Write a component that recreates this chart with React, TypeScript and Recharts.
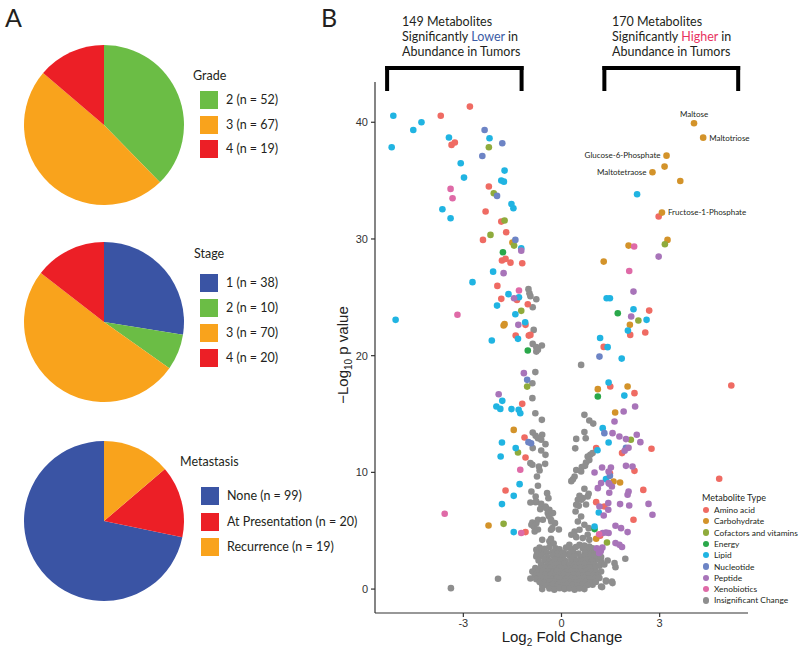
import React from 'react';
import {
  Cell,
  Pie,
  PieChart,
  ReferenceDot,
  ReferenceLine,
  Scatter,
  ScatterChart,
  XAxis,
  YAxis,
} from 'recharts';

const TEXT_FONT = 'Lato, "Open Sans", sans-serif';
const AXIS_FONT = '"Liberation Sans", Arial, sans-serif';

// ---- panel A: cohort pies ----
const gradeLabels = ['2', '3', '4'];
const gradeCounts = [52, 67, 19];
const stageLabels = ['1', '2', '3', '4'];
const stageCounts = [38, 10, 70, 20];
const metastasisLabels = ['None', 'At Presentation', 'Recurrence'];
const metastasisCounts = [99, 20, 19];

const BLUE = '#3a54a4';
const GREEN = '#6bbd45';
const ORANGE = '#f9a31c';
const RED = '#ec1f26';

// ---- panel B: volcano plot, [log2 fold change, -log10 p] ----
const metaboliteTypes = [
  'Amino acid',
  'Carbohydrate',
  'Cofactors and vitamins',
  'Energy',
  'Lipid',
  'Nucleotide',
  'Peptide',
  'Xenobiotics',
  'Insignificant Change',
];
const typeColors = ['#ef6b63', '#d3932a', '#8fab3c', '#2aa84a', '#20b4e2', '#6d84c5', '#a874b9', '#df6aa7', '#8e8e8e'];

const lowerHeader = ['149 Metabolites', 'Significantly ', 'Lower', ' in', 'Abundance in Tumors'];
const higherHeader = ['170 Metabolites', 'Significantly ', 'Higher', ' in', 'Abundance in Tumors'];

const aminoAcid: [number, number][] = [
  [-3.69, 40.56], [-2.8, 41.34], [-3.36, 38.06], [-3.26, 38.26], [-2.22, 34.49], [-2.32, 32.35], [-1.84, 31.49],
  [-1.69, 30.58], [-2.4, 29.92], [-1.82, 28.15], [-1.71, 28.29], [-1.56, 27.97], [-1.2, 27.92], [-1.96, 25.98],
  [-1.84, 24.87], [-1.36, 24.78], [-1.03, 24.41], [-1.1, 22.64], [-1.4, 21.72], [-1.0, 21.72], [-0.95, 21.78],
  [-1.2, 15.87], [-1.13, 12.99], [-1.1, 11.27], [-1.71, 8.45], [-1.1, 4.88],
  [2.97, 31.92], [2.68, 23.86], [2.1, 21.78], [2.56, 21.98], [1.29, 20.75], [1.49, 17.36], [2.23, 16.79],
  [5.19, 17.44], [4.82, 9.45], [1.06, 12.08], [1.85, 11.65], [2.75, 12.02], [2.23, 10.13], [1.48, 9.93],
  [2.5, 8.5], [1.06, 7.45], [1.31, 7.08], [2.2, 5.94], [1.18, 4.57],
];
const carbohydrate: [number, number][] = [
  [-1.5, 29.69], [-1.74, 22.7], [-1.77, 22.58], [-1.46, 13.64], [-2.23, 5.45],
  [4.05, 39.91], [4.33, 38.68], [3.21, 37.14], [3.15, 36.2], [2.78, 35.72], [3.63, 34.97], [3.07, 32.26],
  [3.24, 29.92], [2.05, 29.43], [1.29, 28.06], [2.09, 22.64], [1.11, 17.13], [2.02, 17.36], [1.64, 15.13],
  [1.59, 9.22], [1.79, 9.13], [1.06, 4.31],
];
const cofactors: [number, number][] = [
  [-2.22, 37.86], [-2.07, 33.92], [-1.74, 31.58], [-2.17, 30.35], [-1.45, 29.43], [-1.23, 23.84], [-1.05, 17.35],
  [-1.33, 11.7], [-1.77, 5.59],
  [3.16, 29.55], [2.35, 23.01], [2.12, 12.79], [1.39, 3.99],
];
const energy: [number, number][] = [
  [-1.79, 28.86], [-1.03, 20.44],
  [1.72, 23.64], [1.11, 16.5], [1.01, 5.14],
];
const lipid: [number, number][] = [
  [-5.14, 40.56], [-5.19, 37.86], [-4.53, 39.34], [-4.28, 40.0], [-3.44, 38.7], [-3.08, 36.49], [-2.98, 35.26],
  [-3.64, 32.55], [-3.39, 31.78], [-2.72, 26.3], [-5.07, 23.07], [-2.2, 38.63], [-1.74, 35.86], [-1.84, 35.0],
  [-1.76, 34.91], [-1.53, 33.0], [-1.47, 32.63], [-1.23, 29.2], [-2.09, 27.2], [-1.62, 25.27], [-1.3, 25.0],
  [-1.97, 24.29], [-1.41, 23.55], [-1.11, 22.87], [-1.33, 21.44], [-2.13, 21.3], [-1.81, 16.13], [-1.99, 15.64],
  [-1.87, 15.44], [-1.53, 15.42], [-1.31, 15.36], [-1.26, 15.07], [-1.82, 12.56], [-1.4, 12.08], [-1.86, 11.36],
  [-1.28, 8.99], [-1.46, 7.99], [-1.82, 7.28], [-1.46, 4.88],
  [2.31, 33.83], [1.38, 24.92], [1.48, 24.92], [2.2, 23.98], [2.6, 23.07], [2.03, 22.15], [1.18, 21.52],
  [1.41, 20.73], [1.84, 19.75], [1.44, 17.7], [1.92, 16.58], [1.26, 13.79], [1.44, 12.56], [1.36, 9.42],
  [1.14, 6.56], [1.01, 5.36], [1.1, 11.9],
];
const nucleotide: [number, number][] = [
  [-2.35, 39.34], [-2.42, 37.11], [-1.81, 38.2], [-1.97, 33.69], [-1.41, 29.92], [-1.05, 17.93], [-1.01, 12.59],
  [-0.93, 12.5],
  [1.16, 19.92], [1.31, 13.36], [1.97, 12.1], [1.48, 9.7],
];
const peptide: [number, number][] = [
  [-1.23, 29.0], [-1.77, 27.07], [-1.45, 24.92], [-1.32, 22.64], [-1.15, 18.5], [-1.92, 16.7],
  [2.97, 28.49], [2.2, 25.49], [2.13, 23.35], [2.25, 15.64], [1.9, 15.21], [1.62, 14.36], [1.56, 13.36],
  [1.77, 13.07], [1.97, 12.85], [2.3, 13.22], [2.41, 12.59], [2.05, 12.1], [1.93, 11.85], [1.97, 10.56],
  [2.17, 10.5], [1.24, 10.42], [1.51, 10.42], [1.44, 10.07], [1.01, 9.99], [1.44, 9.08], [1.21, 9.08],
  [1.54, 8.79], [1.11, 8.65], [1.46, 8.25], [2.05, 8.36], [2.02, 8.08], [2.66, 7.3], [2.78, 6.37],
  [1.79, 7.28], [2.07, 7.16], [1.43, 7.37], [1.16, 7.08], [1.29, 6.3], [1.43, 6.8], [1.65, 5.42],
  [1.82, 5.22], [2.02, 4.88], [1.36, 4.85], [1.44, 4.8], [1.26, 4.8], [1.65, 3.94], [1.77, 3.79],
  [1.85, 3.6], [1.08, 3.5], [1.2, 3.25], [1.25, 3.55], [1.15, 3.1], [1.46, 9.02],
];
const xenobiotics: [number, number][] = [
  [-3.39, 34.29], [-3.33, 33.49], [-3.18, 23.5], [-1.3, 25.58], [-1.26, 10.22], [-3.57, 6.45], [-1.23, 4.8],
  [2.22, 29.35], [2.07, 27.26], [1.15, 4.7],
];
const insignificant: [number, number][] = [
  // left arm, upper
  [-1.01, 25.7], [-0.98, 25.35], [-0.95, 25.1], [-0.77, 24.84], [-0.88, 24.15], [-0.85, 22.21], [-0.88, 21.01],
  [-0.77, 20.73], [-0.77, 20.35], [-0.6, 20.87], [-0.72, 20.5], [-0.8, 18.59], [-0.89, 17.64], [-0.89, 16.36],
  [-0.8, 15.07], [-0.6, 14.5], [-0.88, 13.41], [-0.79, 13.13], [-0.59, 13.22], [-0.72, 12.93], [-0.62, 12.79],
  [-0.88, 12.08], [-0.49, 12.42], [-0.62, 11.87], [-0.49, 11.5], [-0.95, 10.79], [-0.89, 10.65], [-0.69, 10.5],
  [-0.5, 10.73], [-0.67, 10.16], [-0.75, 9.65], [-0.72, 8.85], [-0.92, 8.36], [-0.44, 8.22], [-0.4, 7.79],
  [-0.79, 7.93], [-0.79, 7.45],
  // left arm, lower
  [-0.95, 7.42], [-0.77, 7.5], [-0.62, 7.3], [-0.49, 7.08], [-0.65, 6.85], [-0.37, 6.79], [-0.47, 6.94],
  [-0.26, 6.51], [-0.42, 6.51], [-0.39, 6.28], [-0.37, 6.22], [-0.32, 5.93], [-0.2, 5.65], [-0.89, 5.7],
  [-0.83, 5.5], [-0.92, 5.51], [-0.85, 5.36], [-0.77, 5.65], [-0.72, 5.94], [-0.57, 5.94], [-0.31, 5.79],
  [-0.72, 5.1], [-0.82, 4.93], [-0.32, 5.08], [-0.28, 5.22], [-0.08, 5.1], [-0.59, 4.22], [-0.34, 4.08],
  [-0.32, 4.3], [-0.37, 4.1], [-0.24, 3.9], [-0.77, 3.37], [-0.62, 3.22],
  // right arm
  [0.6, 19.21], [0.7, 14.93], [0.85, 14.44], [0.97, 14.18], [0.7, 13.45], [0.45, 12.87], [0.74, 12.93],
  [0.42, 12.06], [0.95, 11.65], [0.88, 11.5], [0.8, 11.36], [0.85, 11.05], [0.75, 10.85], [0.62, 10.45],
  [0.72, 10.56], [0.45, 10.2], [0.6, 10.07], [0.4, 9.65], [0.35, 9.4], [0.3, 9.25], [0.7, 8.6], [0.83, 8.16],
  [0.55, 7.99], [0.65, 7.79], [0.8, 7.93], [0.5, 7.65], [0.6, 7.65], [0.45, 7.22], [0.75, 7.25], [0.53, 7.13],
  [0.43, 6.65], [0.6, 6.22], [0.5, 5.79], [0.7, 5.51], [0.83, 5.22], [0.55, 5.08], [0.4, 4.93], [0.3, 4.65],
  [0.45, 4.45], [0.65, 4.37], [0.8, 4.65], [0.85, 4.22], [0.24, 3.79], [0.55, 3.79], [0.7, 3.72], [0.85, 3.65],
  // right of the base
  [1.06, 2.51], [1.21, 2.36], [1.41, 2.45], [1.62, 2.22], [1.65, 1.88], [1.95, 2.6], [1.36, 0.74], [1.56, 0.51],
  [1.21, 0.22], [0.95, 0.37], [1.24, 0.17], [1.36, 0.65], [1.54, 0.65],
  // base of the volcano
  [-0.67, 3.55], [-0.52, 3.45], [-0.37, 3.6], [-0.18, 3.5], [-0.06, 3.4], [0.14, 3.55], [0.29, 3.45], [0.44, 3.6],
  [0.65, 3.5], [0.8, 3.4], [0.95, 3.5],
  [-0.75, 3.0], [-0.45, 3.1], [-0.28, 3.15], [-0.12, 3.05], [0.05, 3.1], [0.2, 3.0], [0.36, 3.15], [0.52, 3.05],
  [0.72, 3.1], [0.88, 3.0], [1.02, 3.1],
  [-0.77, 2.8], [-0.62, 2.85], [-0.44, 2.75], [-0.26, 2.85], [-0.11, 2.8], [0.04, 2.75], [0.24, 2.85], [0.4, 2.8],
  [0.6, 2.75], [0.75, 2.85], [0.9, 2.8], [1.06, 2.9], [1.21, 2.75],
  [-0.7, 2.45], [-0.52, 2.5], [-0.36, 2.4], [-0.2, 2.5], [-0.03, 2.45], [0.12, 2.4], [0.3, 2.5], [0.47, 2.45],
  [0.62, 2.4], [0.78, 2.5], [0.93, 2.4],
  [-0.62, 2.1], [-0.44, 2.05], [-0.32, 2.15], [-0.18, 2.1], [-0.06, 2.05], [0.09, 2.15], [0.24, 2.1], [0.4, 2.05],
  [0.55, 2.1], [0.7, 2.15], [0.85, 2.05], [1.01, 2.1], [1.16, 2.0], [1.31, 2.1],
  [-0.8, 1.8], [-0.65, 1.75], [-0.5, 1.85], [-0.35, 1.8], [-0.2, 1.75], [-0.05, 1.85], [0.1, 1.8], [0.26, 1.75],
  [0.42, 1.85], [0.58, 1.8], [0.73, 1.75], [0.88, 1.85], [1.03, 1.8],
  [-0.89, 1.5], [-0.72, 1.45], [-0.57, 1.55], [-0.42, 1.5], [-0.26, 1.45], [-0.14, 1.55], [-0.01, 1.5], [0.14, 1.45],
  [0.29, 1.55], [0.44, 1.5], [0.6, 1.45], [0.75, 1.55], [0.9, 1.5], [1.06, 1.45], [1.21, 1.5],
  [-0.82, 1.2], [-0.66, 1.15], [-0.5, 1.25], [-0.35, 1.2], [-0.2, 1.15], [-0.06, 1.25], [0.08, 1.2], [0.22, 1.15],
  [0.37, 1.25], [0.52, 1.2], [0.67, 1.15], [0.82, 1.25], [0.97, 1.2], [1.12, 1.15],
  [-0.95, 0.9], [-0.77, 0.85], [-0.59, 0.95], [-0.44, 0.9], [-0.28, 0.85], [-0.14, 0.95], [-0.01, 0.9], [0.14, 0.85],
  [0.29, 0.95], [0.43, 0.9], [0.55, 0.85], [0.7, 0.95], [0.85, 0.9], [1.01, 0.85], [1.16, 0.95],
  [-0.67, 0.6], [-0.52, 0.55], [-0.36, 0.65], [-0.2, 0.6], [-0.05, 0.55], [0.1, 0.65], [0.26, 0.6], [0.42, 0.55],
  [0.58, 0.65], [0.73, 0.6], [0.88, 0.55], [1.05, 0.6],
  [-0.59, 0.35], [-0.42, 0.3], [-0.26, 0.4], [-0.11, 0.35], [0.04, 0.3], [0.19, 0.4], [0.34, 0.35], [0.5, 0.3],
  [0.65, 0.4], [0.8, 0.35],
  [-0.59, 0.0], [-0.37, 0.05], [-0.22, -0.05], [-0.06, 0.08], [0.09, 0.0], [0.24, 0.05], [0.4, -0.05], [0.55, 0.05],
  [0.7, 0.0],
  // stragglers
  [-1.94, 0.88], [-3.38, 0.08],
];

// drawn gray first, then the metabolite classes
const seriesData = [aminoAcid, carbohydrate, cofactors, energy, lipid, nucleotide, peptide, xenobiotics, insignificant];
const drawOrder = [8, 0, 1, 2, 3, 4, 5, 6, 7];

const annotated = [
  { name: 'Maltose', x: 4.05, y: 39.91, side: 'top' },
  { name: 'Maltotriose', x: 4.33, y: 38.68, side: 'right' },
  { name: 'Glucose-6-Phosphate', x: 3.21, y: 37.14, side: 'left' },
  { name: 'Maltotetraose', x: 2.78, y: 35.72, side: 'left' },
  { name: 'Fructose-1-Phosphate', x: 3.07, y: 32.26, side: 'right' },
];

const lowerBracket = [-5.33, -1.22];
const higherBracket = [1.31, 5.4];
const bracketTop = 44.64;
const bracketFoot = 42.85;

type PieBlockProps = {
  cy: number;
  title: string;
  titleX: number;
  titleY: number;
  rowX: number;
  rowY: number;
  rowGap: number;
  labels: string[];
  counts: number[];
  colors: string[];
  counterClockwise?: boolean;
};

function PieBlock(p: PieBlockProps) {
  const data = p.labels.map((l, i) => ({ name: `${l} (n = ${p.counts[i]})`, value: p.counts[i] }));
  return (
    <>
      <div style={{ position: 'absolute', left: 19, top: p.cy - 85 }}>
        <PieChart width={170} height={170} margin={{ top: 0, right: 0, bottom: 0, left: 0 }}>
          <Pie
            data={data}
            dataKey="value"
            cx={85}
            cy={85}
            outerRadius={80}
            startAngle={90}
            endAngle={p.counterClockwise ? 450 : -270}
            stroke="none"
            isAnimationActive={false}
          >
            {data.map((d, i) => (
              <Cell key={d.name} fill={p.colors[i]} />
            ))}
          </Pie>
        </PieChart>
      </div>
      <div style={{ position: 'absolute', left: p.titleX, top: p.titleY - 9, lineHeight: '18px', fontSize: 12.5, color: '#231f20' }}>
        {p.title}
      </div>
      {data.map((d, i) => (
        <div key={d.name} style={{ position: 'absolute', left: p.rowX, top: p.rowY + i * p.rowGap - 9, display: 'flex', alignItems: 'center', whiteSpace: 'nowrap' }}>
          <div style={{ width: 18, height: 18, background: p.colors[i] }} />
          <span style={{ marginLeft: 8, fontSize: 12.5, lineHeight: '18px', color: '#231f20' }}>{d.name}</span>
        </div>
      ))}
    </>
  );
}

function Header({ left, lines, accent }: { left: number; lines: string[]; accent: string }) {
  const line = { position: 'absolute' as const, left, fontSize: 12.5, lineHeight: '15px', color: '#231f20', whiteSpace: 'nowrap' as const };
  return (
    <>
      <div style={{ ...line, top: 14 }}>{lines[0]}</div>
      <div style={{ ...line, top: 29 }}>
        {lines[1]}
        <span style={{ color: accent }}>{lines[2]}</span>
        {lines[3]}
      </div>
      <div style={{ ...line, top: 44 }}>{lines[4]}</div>
    </>
  );
}

const dot = (color: string) => (props: any) => <circle cx={props.cx} cy={props.cy} r={3.3} fill={color} />;

function Volcano() {
  const tick = { fontSize: 11, fill: '#333', fontFamily: AXIS_FONT };
  const axis = { stroke: '#333', strokeWidth: 1.2 };
  return (
    <div style={{ position: 'absolute', left: 320, top: 0 }}>
      <ScatterChart width={480} height={648} margin={{ top: 82, right: 52, bottom: 5, left: 25 }}>
        <XAxis
          type="number"
          dataKey="x"
          domain={[-5.7, 5.7]}
          ticks={[-3, 0, 3]}
          allowDataOverflow
          height={30}
          tickSize={4}
          tickMargin={2}
          tick={tick}
          axisLine={axis}
          tickLine={axis}
        />
        <YAxis
          type="number"
          dataKey="y"
          domain={[-2.05, 43.45]}
          ticks={[0, 10, 20, 30, 40]}
          allowDataOverflow
          width={30}
          tickSize={4}
          tickMargin={3}
          tick={tick}
          axisLine={axis}
          tickLine={axis}
        />
        {drawOrder.map((k) => (
          <Scatter
            key={metaboliteTypes[k]}
            name={metaboliteTypes[k]}
            data={seriesData[k].map(([x, y]) => ({ x, y }))}
            fill={typeColors[k]}
            shape={dot(typeColors[k])}
            isAnimationActive={false}
          />
        ))}
        {[lowerBracket, higherBracket].flatMap(([a, b]) => [
          <ReferenceLine key={`h${a}`} segment={[{ x: a, y: bracketTop }, { x: b, y: bracketTop }]} stroke="#000" strokeWidth={4} strokeLinecap="square" ifOverflow="visible" />,
          <ReferenceLine key={`l${a}`} segment={[{ x: a, y: bracketTop }, { x: a, y: bracketFoot }]} stroke="#000" strokeWidth={4} strokeLinecap="square" ifOverflow="visible" />,
          <ReferenceLine key={`r${a}`} segment={[{ x: b, y: bracketTop }, { x: b, y: bracketFoot }]} stroke="#000" strokeWidth={4} strokeLinecap="square" ifOverflow="visible" />,
        ])}
        {annotated.map((a) => (
          <ReferenceDot
            key={a.name}
            x={a.x}
            y={a.y}
            r={0}
            fill="none"
            stroke="none"
            label={{ value: a.name, position: a.side as any, offset: 6, fontSize: 8, fill: '#231f20', fontFamily: TEXT_FONT }}
          />
        ))}
      </ScatterChart>
    </div>
  );
}

export default function App() {
  return (
    <div style={{ position: 'absolute', left: 0, top: 0, width: 800, height: 648, background: '#fff', fontFamily: TEXT_FONT, overflow: 'hidden' }}>
      <div style={{ position: 'absolute', left: 5, top: 2, fontSize: 25, lineHeight: '30px', color: '#231f20' }}>A</div>
      <div style={{ position: 'absolute', left: 321, top: 2, fontSize: 25, lineHeight: '30px', color: '#231f20' }}>B</div>

      <PieBlock cy={125} title="Grade" titleX={193} titleY={76} rowX={200} rowY={100} rowGap={24.6} labels={gradeLabels} counts={gradeCounts} colors={[GREEN, ORANGE, RED]} />
      <PieBlock cy={322} title="Stage" titleX={194} titleY={254} rowX={200} rowY={283} rowGap={25} labels={stageLabels} counts={stageCounts} colors={[BLUE, GREEN, ORANGE, RED]} />
      <PieBlock cy={521} title="Metastasis" titleX={180} titleY={462} rowX={201} rowY={496} rowGap={25.5} labels={metastasisLabels} counts={metastasisCounts} colors={[BLUE, RED, ORANGE]} counterClockwise />

      <Volcano />

      <Header left={402} lines={lowerHeader} accent="#3b5ba5" />
      <Header left={612} lines={higherHeader} accent="#e8335f" />

      <div style={{ position: 'absolute', left: 562, top: 638, transform: 'translate(-50%, -50%)', fontFamily: AXIS_FONT, fontSize: 15, color: '#222', whiteSpace: 'nowrap' }}>
        Log<sub style={{ fontSize: 10 }}>2</sub> Fold Change
      </div>
      <div style={{ position: 'absolute', left: 344, top: 355, transform: 'translate(-50%, -50%) rotate(-90deg)', fontFamily: AXIS_FONT, fontSize: 15, color: '#222', whiteSpace: 'nowrap' }}>
        −Log<sub style={{ fontSize: 10 }}>10</sub> p value
      </div>

      <div style={{ position: 'absolute', left: 702, top: 492, fontSize: 9, lineHeight: '12px', color: '#231f20', whiteSpace: 'nowrap' }}>Metabolite Type</div>
      {metaboliteTypes.map((t, i) => (
        <div key={t} style={{ position: 'absolute', left: 702, top: 510 + i * 11.3 - 6, height: 12, display: 'flex', alignItems: 'center', whiteSpace: 'nowrap' }}>
          <div style={{ width: 6.4, height: 6.4, borderRadius: '50%', background: typeColors[i], marginLeft: 0.6 }} />
          <span style={{ marginLeft: 5, fontSize: 8.4, lineHeight: '12px', color: '#231f20' }}>{t}</span>
        </div>
      ))}
    </div>
  );
}
